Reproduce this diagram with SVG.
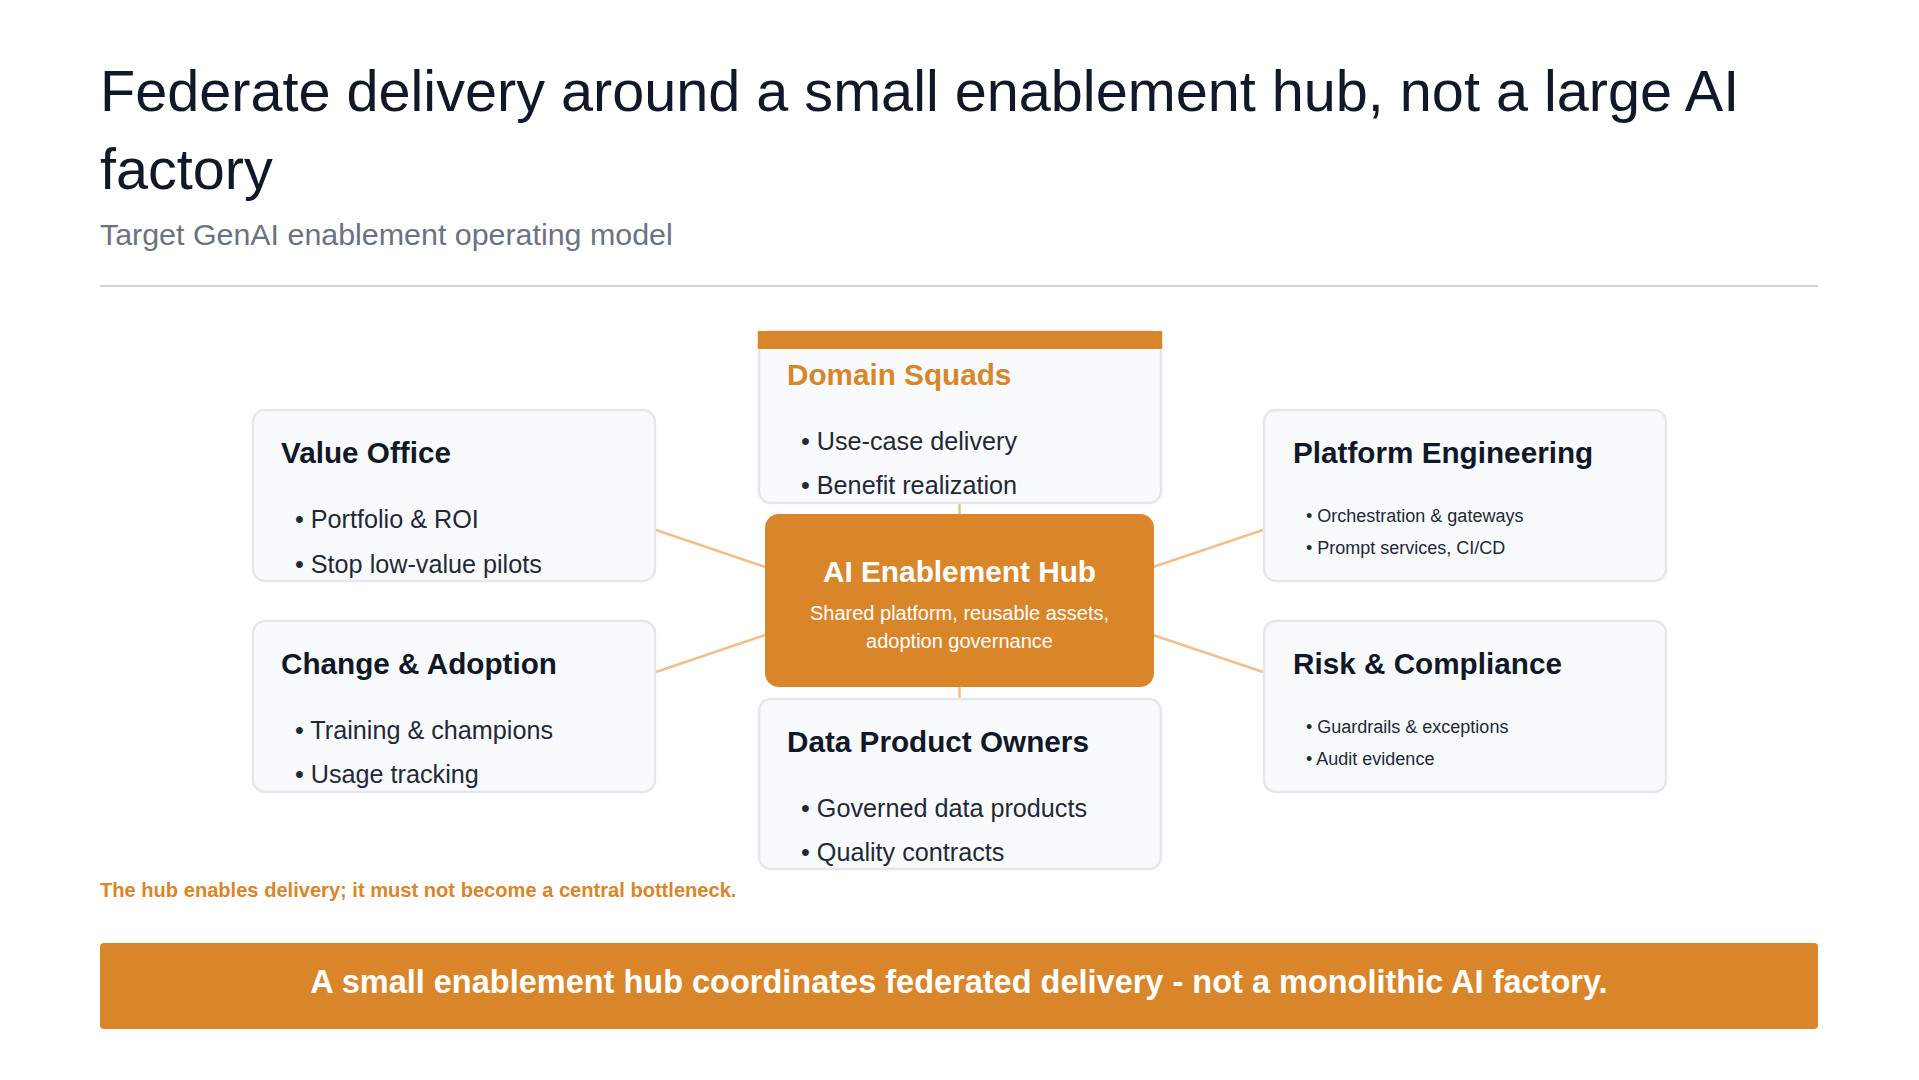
<svg xmlns="http://www.w3.org/2000/svg" width="1919" height="1080" viewBox="0 0 1919 1080">
<style>
text{font-family:"Liberation Sans",Arial,sans-serif}
.title{font-size:57.6px;fill:#111827}
.sub{font-size:30.4px;fill:#6b7280}
.box{fill:#f8fafc;stroke:#e5e7eb;stroke-width:2.5}
.nt{font-size:29.7px;font-weight:bold;fill:#111827}
.b25{font-size:25.2px;fill:#1f2937}
.b18{font-size:18px;fill:#1f2937}
.conn{stroke:#f0c08a;stroke-width:2.5;fill:none}
</style>
<rect width="1919" height="1080" fill="#ffffff"/>
<text class="title" x="100" y="111">Federate delivery around a small enablement hub, not a large AI</text>
<text class="title" x="100" y="189">factory</text>
<text class="sub" x="100" y="244.5">Target GenAI enablement operating model</text>
<rect x="100" y="285" width="1718" height="2" fill="#d1d5db"/>

<g id="connectors">
<line class="conn" x1="656" y1="530" x2="765" y2="567"/>
<line class="conn" x1="656" y1="672" x2="765" y2="635"/>
<line class="conn" x1="1153" y1="567" x2="1263" y2="530"/>
<line class="conn" x1="1153" y1="635" x2="1263" y2="672"/>
<line class="conn" x1="959.5" y1="503" x2="959.5" y2="514" stroke-width="3"/>
<line class="conn" x1="959.5" y1="687" x2="959.5" y2="699" stroke-width="3"/>
</g>

<g id="value-office">
<rect class="box" x="253" y="410" width="402" height="171" rx="12"/>
<text class="nt" x="281" y="463">Value Office</text>
<text class="b25" x="295" y="528">• Portfolio &amp; ROI</text>
<text class="b25" x="295" y="573">• Stop low-value pilots</text>
</g>

<g id="change-adoption">
<rect class="box" x="253" y="621" width="402" height="171" rx="12"/>
<text class="nt" x="281" y="674">Change &amp; Adoption</text>
<text class="b25" x="295" y="739">• Training &amp; champions</text>
<text class="b25" x="295" y="783">• Usage tracking</text>
</g>

<g id="domain-squads">
<rect class="box" x="759" y="331" width="402" height="172" rx="12"/>
<rect x="757.75" y="331" width="404.5" height="18" fill="#d9862b"/>
<text class="nt" x="787" y="385" style="fill:#d9862b">Domain Squads</text>
<text class="b25" x="801" y="450">• Use-case delivery</text>
<text class="b25" x="801" y="494">• Benefit realization</text>
</g>

<g id="ai-hub">
<rect x="765" y="514" width="389" height="173" rx="14" fill="#d9862b"/>
<text x="959.5" y="582" text-anchor="middle" font-size="29.8" font-weight="bold" fill="#ffffff">AI Enablement Hub</text>
<text x="959.5" y="620" text-anchor="middle" font-size="20" fill="#ffffff">Shared platform, reusable assets,</text>
<text x="959.5" y="648" text-anchor="middle" font-size="20" fill="#ffffff">adoption governance</text>
</g>

<g id="data-product-owners">
<rect class="box" x="759" y="699" width="402" height="170" rx="12"/>
<text class="nt" x="787" y="752">Data Product Owners</text>
<text class="b25" x="801" y="817">• Governed data products</text>
<text class="b25" x="801" y="861">• Quality contracts</text>
</g>

<g id="platform-engineering">
<rect class="box" x="1264" y="410" width="402" height="171" rx="12"/>
<text class="nt" x="1293" y="463">Platform Engineering</text>
<text class="b18" x="1306" y="522">• Orchestration &amp; gateways</text>
<text class="b18" x="1306" y="554">• Prompt services, CI/CD</text>
</g>

<g id="risk-compliance">
<rect class="box" x="1264" y="621" width="402" height="171" rx="12"/>
<text class="nt" x="1293" y="674">Risk &amp; Compliance</text>
<text class="b18" x="1306" y="733">• Guardrails &amp; exceptions</text>
<text class="b18" x="1306" y="765">• Audit evidence</text>
</g>

<text x="100" y="897" font-size="20.1" font-weight="bold" fill="#d9862b">The hub enables delivery; it must not become a central bottleneck.</text>

<g id="banner">
<rect x="100" y="943" width="1718" height="86" rx="4" fill="#d9862b"/>
<text x="959" y="993" text-anchor="middle" font-size="32.5" font-weight="bold" fill="#ffffff">A small enablement hub coordinates federated delivery - not a monolithic AI factory.</text>
</g>
</svg>
